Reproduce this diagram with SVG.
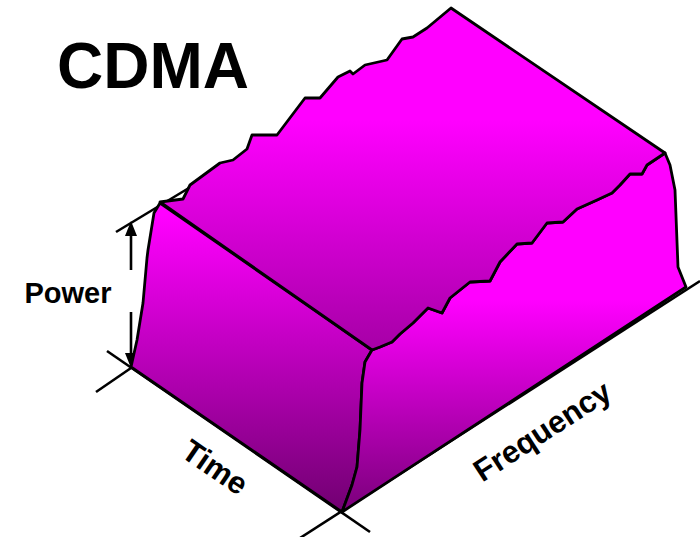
<svg xmlns="http://www.w3.org/2000/svg" width="700" height="537" viewBox="0 0 700 537">
  <style>
    .face { stroke: #000; stroke-width: 2.8; stroke-linejoin: round; }
    .ln { stroke: #000; stroke-width: 2.6; fill: none; stroke-linecap: butt; }
    .head { fill: #000; }
    .lbl { font-family: "Liberation Sans", Arial, sans-serif; font-weight: bold; fill: #000; }
  </style>
  <defs>
    <linearGradient id="gTop" gradientUnits="userSpaceOnUse" x1="0" y1="120" x2="0" y2="350">
      <stop offset="0" stop-color="#FF00FF"/>
      <stop offset="1" stop-color="#A600A6"/>
    </linearGradient>
    <linearGradient id="gLeft" gradientUnits="userSpaceOnUse" x1="0" y1="215" x2="0" y2="510">
      <stop offset="0" stop-color="#FF00FF"/>
      <stop offset="1" stop-color="#720072"/>
    </linearGradient>
    <linearGradient id="gRight" gradientUnits="userSpaceOnUse" x1="0" y1="300" x2="0" y2="515">
      <stop offset="0" stop-color="#FF00FF"/>
      <stop offset="1" stop-color="#780078"/>
    </linearGradient>
  </defs>

  <g id="connectors">
    <line class="ln" x1="116" y1="232" x2="222" y2="168"/>
    <line class="ln" x1="107" y1="351" x2="370" y2="532"/>
    <line class="ln" x1="96" y1="392" x2="131" y2="368"/>
    <line class="ln" x1="300" y1="538" x2="700" y2="281"/>
    <line class="ln" x1="131" y1="232" x2="131" y2="270"/>
    <polygon class="head" points="131,221 125,236 137,236"/>
    <line class="ln" x1="131" y1="312" x2="131" y2="356"/>
    <polygon class="head" points="131,368 125,353 137,353"/>
  </g>

  <g id="cube">
    <polygon id="left-face" class="face" fill="url(#gLeft)" points="160,203 372,350 365,362 362,383 360,430 357,467 352,485 342,512 131,367 137,340 143,303 147,258 148,250 154,213"/>
    <polygon id="right-face" class="face" fill="url(#gRight)" points="372,350 380,347 392,342 400,334 413,323 428,308 442,313 450,298 470,282 490,281 500,262 517,244 532,243 547,223 563,222 577,209 597,200 612,193 620,185 630,174 642,174 647,165 665,153 670,165 675,190 678,267 686,287 342,512 352,485 357,467 360,430 362,383 365,362"/>
    <polygon id="top-face" class="face" fill="url(#gTop)" points="160,202 183,199 190,185 220,163 233,160 247,149 252,135 277,135 305,98 320,98 338,77 350,71 353,74 365,65 387,60 402,39 413,37 427,28 451,8 665,153 647,165 642,174 630,174 620,185 612,193 597,200 577,209 563,222 547,223 532,243 517,244 500,262 490,281 470,282 450,298 442,313 428,308 413,323 400,334 392,342 380,347 372,350"/>
  </g>

  <g id="title"><text class="lbl" x="57" y="88" font-size="64">CDMA</text></g>
  <g id="power-label"><text class="lbl" x="68" y="303" font-size="29" text-anchor="middle">Power</text></g>
  <g id="time-label"><text class="lbl" font-size="31" text-anchor="middle" transform="translate(209,476) rotate(34.5)">Time</text></g>
  <g id="frequency-label"><text class="lbl" font-size="31" text-anchor="middle" transform="translate(548,440) rotate(-33)">Frequency</text></g>
</svg>
